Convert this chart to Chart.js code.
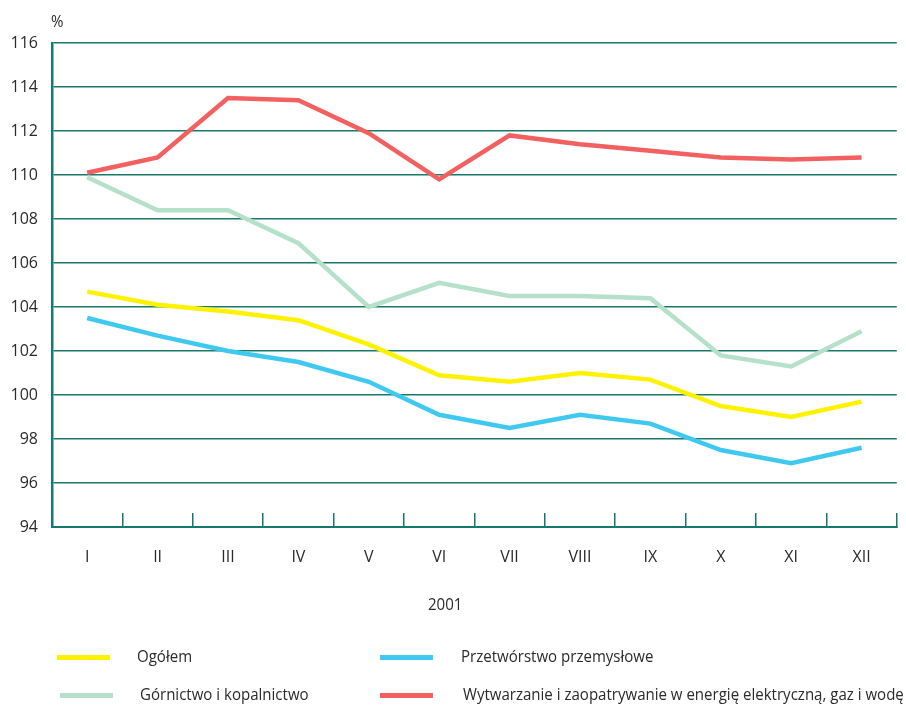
<!DOCTYPE html>
<html>
<head>
<meta charset="utf-8">
<script src="https://cdn.jsdelivr.net/npm/chart.js@4"></script>
<style>
  body { margin: 0; background: #fff; font-family: "Open Sans", sans-serif; color: #2a2a2a; }
  .wrap { position: relative; width: 906px; height: 706px; overflow: hidden; }
  canvas { position: absolute; left: 0; top: 0; }
  .txt { position: absolute; font-size: 16px; white-space: nowrap; transform: scaleX(0.94); transform-origin: left center; }
  .sw { position: absolute; width: 53px; height: 5px; }
</style>
</head>
<body>
<div class="wrap">
  <canvas id="chart" width="906" height="706"></canvas>
  <div class="txt" style="left:51px; top:10px;">%</div>
  <div class="txt" style="left:428px; top:593px;">2001</div>
  <div id="legend"></div>
</div>
<script>
const months = ['I', 'II', 'III', 'IV', 'V', 'VI', 'VII', 'VIII', 'IX', 'X', 'XI', 'XII'];
const ogolem = [104.7, 104.1, 103.8, 103.4, 102.3, 100.9, 100.6, 101.0, 100.7, 99.5, 99.0, 99.7];
const przetworstwo = [103.5, 102.7, 102.0, 101.5, 100.6, 99.1, 98.5, 99.1, 98.7, 97.5, 96.9, 97.6];
const gornictwo = [109.9, 108.4, 108.4, 106.9, 104.0, 105.1, 104.5, 104.5, 104.4, 101.8, 101.3, 102.9];
const energia = [110.1, 110.8, 113.5, 113.4, 111.9, 109.8, 111.8, 111.4, 111.1, 110.8, 110.7, 110.8];

const teal = '#17796c';
const series = [
    { label: 'Ogółem', data: ogolem, color: '#fff200' },
    { label: 'Przetwórstwo przemysłowe', data: przetworstwo, color: '#3fc8f0' },
    { label: 'Górnictwo i kopalnictwo', data: gornictwo, color: '#b5e0c9' },
    { label: 'Wytwarzanie i zaopatrywanie w energię elektryczną, gaz i wodę', data: energia, color: '#f26060' }
];

// legend in two columns, like the original
const legendPos = [[57, 657, 137], [380, 657, 461], [60, 695, 140], [380, 695, 463]];
document.getElementById('legend').innerHTML = series.map((s, i) => {
    const [sx, sy, tx] = legendPos[i];
    return `<div class="sw" style="left:${sx}px; top:${sy - 2}px; background:${s.color}"></div>` +
        `<div class="txt" style="left:${tx}px; top:${sy - 12}px;">${s.label}</div>`;
}).join('');

const chart = new Chart(document.getElementById('chart'), {
    type: 'line',
    data: {
        labels: months,
        datasets: series.map(s => ({
            label: s.label,
            data: s.data,
            borderColor: s.color,
            backgroundColor: s.color,
            borderWidth: 4.5,
            pointRadius: 0,
            tension: 0
        }))
    },
    options: {
        responsive: false,
        animation: false,
        layout: { padding: { top: 43, right: 8, left: 0, bottom: 0 } },
        plugins: { legend: { display: false }, tooltip: { enabled: false } },
        scales: {
            x: {
                offset: true,
                grid: { offset: true, drawOnChartArea: false, color: teal, lineWidth: 1.5, tickLength: -14 },
                border: { color: teal, width: 2 },
                ticks: { color: '#2a2a2a', padding: 35, font: { family: 'Open Sans', size: 16 } },
                afterFit: scale => { scale.height = 179; }
            },
            y: {
                min: 94,
                max: 116,
                ticks: { stepSize: 2, color: '#2a2a2a', padding: 14, font: { family: 'Open Sans', size: 16 } },
                grid: { color: teal, lineWidth: 1.5, drawTicks: false },
                border: { color: teal, width: 2.5 },
                afterFit: scale => { scale.width = 52; }
            }
        }
    }
});
</script>
</body>
</html>
